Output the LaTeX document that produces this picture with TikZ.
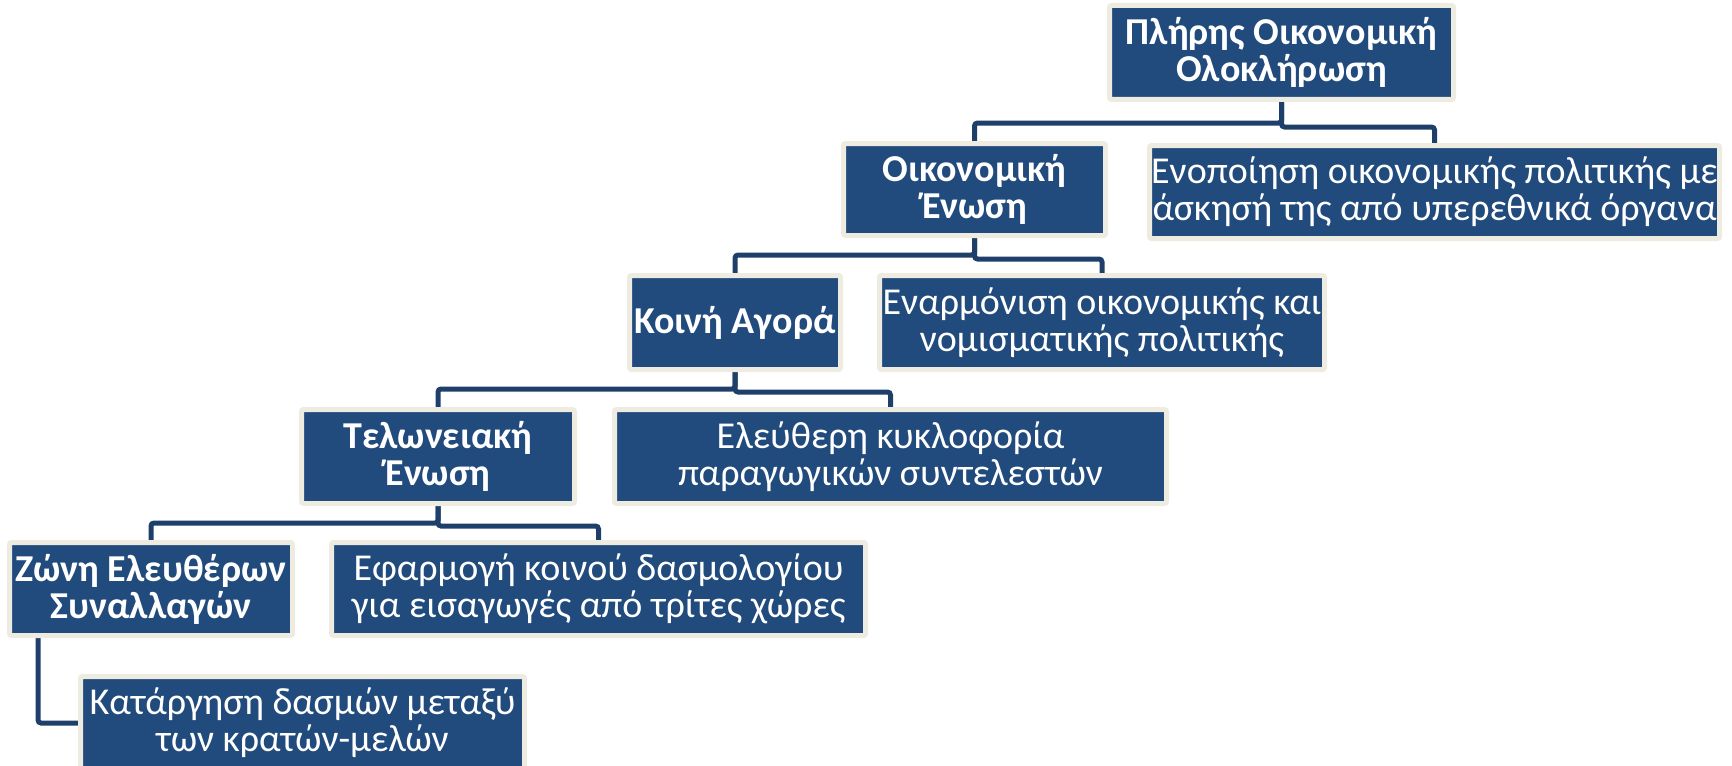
\documentclass[tikz,border=0pt]{standalone}
\usepackage{fontspec}
\setmainfont{Carlito}
\usetikzlibrary{backgrounds}
\definecolor{boxblue}{HTML}{214A7D}
\definecolor{boxrim}{HTML}{EEECE1}
\definecolor{linkblue}{HTML}{1F3F6B}
\tikzset{
  card/.style 2 args={draw=boxrim, line width=2.5pt, fill=boxblue, rounded corners=1pt,
    minimum width=#1, minimum height=#2, inner sep=0pt, align=center, text=white,
    font=\fontsize{19}{18.5}\selectfont},
  keycard/.style 2 args={card={#1}{#2}, font=\fontsize{19}{18.5}\selectfont\bfseries},
  link/.style={draw=linkblue, line width=2.5pt, rounded corners=1.5pt}
}
\begin{document}
\begin{tikzpicture}[x=0.5pt,y=-0.5pt]
\clip (0,0) rectangle (1732,765);
\useasboundingbox (0,0) rectangle (1732,765);
\node[keycard={172pt}{47pt}] (pliris) at (1281.5,52.5) {Πλήρης Οικονομική\\Ολοκλήρωση};
\node[card={285pt}{46.5pt}] (enopoiisi) at (1434.5,192) {Ενοποίηση οικονομικής πολιτικής με\\άσκησή της από υπερεθνικά όργανα};
\node[keycard={131pt}{46pt}] (oikenosi) at (974.5,189.5) {Οικονομική\\Ένωση};
\node[keycard={105.5pt}{47pt}] (koini) at (735,322.5) {Κοινή Αγορά};
\node[card={222.5pt}{47pt}] (enarm) at (1102,322.5) {Εναρμόνιση οικονομικής και\\νομισματικής πολιτικής};
\node[keycard={136.5pt}{47pt}] (telon) at (438,456.5) {Τελωνειακή\\Ένωση};
\node[card={276pt}{47pt}] (eleft) at (890.5,456.5) {Ελεύθερη κυκλοφορία\\παραγωγικών συντελεστών};
\node[keycard={141.5pt}{46.5pt}] (zoni) at (151,589) {Ζώνη Ελευθέρων\\Συναλλαγών};
\node[card={267pt}{46.5pt}] (efarm) at (598.5,589) {Εφαρμογή κοινού δασμολογίου\\για εισαγωγές από τρίτες χώρες};
\node[card={222pt}{46.5pt}] (katarg) at (302.5,723) {Κατάργηση δασμών μεταξύ\\των κρατών-μελών};
\begin{pgfonlayer}{background}
\draw[link] (pliris.south) -- ++(0,21) -| (oikenosi.north);
\draw[link] (pliris.south) -- ++(0,25) -| (enopoiisi.north);
\draw[link] (oikenosi.south) -- ++(0,17) -| (koini.north);
\draw[link] (oikenosi.south) -- ++(0,21) -| (enarm.north);
\draw[link] (koini.south) -- ++(0,17) -| (telon.north);
\draw[link] (koini.south) -- ++(0,20) -| (eleft.north);
\draw[link] (telon.south) -- ++(0,17) -| (zoni.north);
\draw[link] (telon.south) -- ++(0,20) -| (efarm.north);
\draw[link] ([xshift=15.5pt]zoni.south west) |- (katarg.west);
\end{pgfonlayer}
\end{tikzpicture}
\end{document}
